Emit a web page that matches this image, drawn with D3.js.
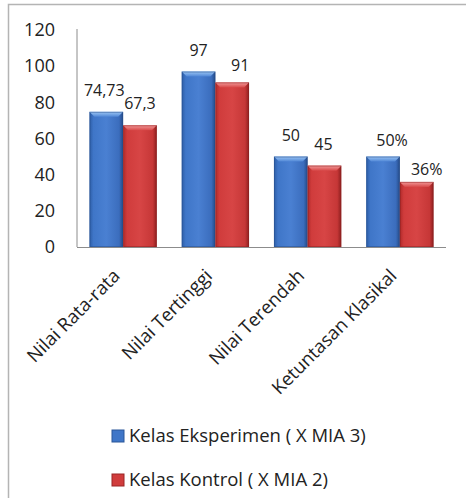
<!DOCTYPE html>
<html lang="id">
  <head>
    <meta charset="utf-8" />
    <script src="https://cdn.jsdelivr.net/npm/d3@7/dist/d3.min.js"></script>
    <style>
      body { margin: 0; background: #fff; }
      text { font-family: "Open Sans", sans-serif; fill: #222; }
      .axis path, .axis line { stroke: #8c8c8c; }
    </style>
  </head>
  <body>
    <div id="container"></div>
    <script>
      const categories = ["Nilai Rata-rata", "Nilai Tertinggi", "Nilai Terendah", "Ketuntasan Klasikal"];
      const seriesNames = ["Kelas Eksperimen ( X MIA 3)", "Kelas Kontrol ( X MIA 2)"];
      const eksperimen = [74.73, 97, 50, 50];
      const kontrol = [67.3, 91, 45, 36];
      const eksperimenLabels = ["74,73", "97", "50", "50%"];
      const kontrolLabels = ["67,3", "91", "45", "36%"];
      const yTicks = [0, 20, 40, 60, 80, 100, 120];
      // small label nudges, as the original chart placed them
      const labelNudge = [[-2, 0], [0, 0], [0, 0], [8, 5], [0, 0], [-1, 0], [9, 5], [10, 9]];

      const width = 466, height = 498;
      const svg = d3.select("#container").append("svg").attr("width", width).attr("height", height);

      // chart frame
      svg.append("rect").attr("x", 8.5).attr("y", 4.5).attr("width", 480).attr("height", 520)
        .attr("fill", "none").attr("stroke", "#b4b4b4").attr("stroke-width", 1.5);

      const defs = svg.append("defs");
      function grad(id, stops, vertical) {
        const g = defs.append("linearGradient").attr("id", id)
          .attr("x1", 0).attr("y1", 0).attr("x2", vertical ? 0 : 1).attr("y2", vertical ? 1 : 0);
        stops.forEach(([o, c]) => g.append("stop").attr("offset", o).attr("stop-color", c));
      }
      grad("blueBody", [[0, "#2d5da6"], [0.12, "#3f76c8"], [0.5, "#4a80d2"], [0.88, "#3b6dbd"], [1, "#244a86"]]);
      grad("redBody", [[0, "#b02a2a"], [0.12, "#d03c3c"], [0.5, "#d74545"], [0.88, "#c63737"], [1, "#8c1e1e"]]);
      grad("blueTop", [[0, "#9cc6f4"], [1, "#4f86d6"]], true);
      grad("redTop", [[0, "#f29a9a"], [1, "#d84a4a"]], true);

      const x0 = d3.scaleBand().domain(categories).range([77, 446]).paddingInner(0.27).paddingOuter(0.135);
      const x1 = d3.scaleBand().domain([0, 1]).range([0, x0.bandwidth()]);
      const y = d3.scaleLinear().domain([0, 120]).range([247, 30]);

      // axes
      svg.append("g").attr("class", "axis").attr("transform", "translate(77,0)")
        .call(d3.axisLeft(y).tickValues(yTicks).tickSize(0).tickPadding(22))
        .call(g => g.select(".domain").attr("d", `M0,${y(120) - 1}V${y(0)}`))
        .call(g => g.selectAll("text").attr("font-size", 18).attr("font-family", "Open Sans").attr("fill", "#222"));
      svg.append("line").attr("x1", 77).attr("x2", 446).attr("y1", y(0) + 0.5).attr("y2", y(0) + 0.5)
        .attr("stroke", "#8c8c8c");

      const rows = [];
      categories.forEach((c, i) => {
        rows.push({ c, s: 0, v: eksperimen[i], label: eksperimenLabels[i], k: i * 2 });
        rows.push({ c, s: 1, v: kontrol[i], label: kontrolLabels[i], k: i * 2 + 1 });
      });

      const bars = svg.append("g").selectAll("g").data(rows).join("g");
      bars.append("rect")
        .attr("x", d => x0(d.c) + x1(d.s))
        .attr("y", d => y(d.v))
        .attr("width", x1.bandwidth())
        .attr("height", d => y(0) - y(d.v))
        .attr("fill", d => d.s ? "url(#redBody)" : "url(#blueBody)");
      // bevel on top of each bar
      bars.append("path")
        .attr("d", d => {
          const l = x0(d.c) + x1(d.s), r = l + x1.bandwidth(), t = y(d.v), b = 5;
          return `M${l},${t}H${r}L${r - b},${t + b}H${l + b}Z`;
        })
        .attr("fill", d => d.s ? "url(#redTop)" : "url(#blueTop)");
      bars.append("rect")
        .attr("x", d => x0(d.c) + x1(d.s) + 0.5)
        .attr("y", d => y(d.v) + 0.5)
        .attr("width", x1.bandwidth() - 1)
        .attr("height", d => y(0) - y(d.v) - 1)
        .attr("fill", "none")
        .attr("stroke", d => d.s ? "#8e2020" : "#254d8c").attr("stroke-opacity", 0.5);

      bars.append("text")
        .attr("x", d => x0(d.c) + x1(d.s) + x1.bandwidth() / 2 + labelNudge[d.k][0])
        .attr("y", d => y(d.v) - 16 + labelNudge[d.k][1])
        .attr("text-anchor", "middle")
        .attr("font-size", 16)
        .text(d => d.label);

      // category labels
      svg.append("g").selectAll("text").data(categories).join("text")
        .attr("transform", c => `translate(${x0(c) + x0.bandwidth() / 2 - 2},${y(0) + 30}) rotate(-45)`)
        .attr("text-anchor", "end")
        .attr("font-size", 18.5)
        .text(c => c);

      // legend
      const legendColors = [["#3f76c8", "#2a5699"], ["#d03c3c", "#9a2424"]];
      const legend = svg.append("g").selectAll("g").data(seriesNames).join("g")
        .attr("transform", (d, i) => `translate(112,${436 + i * 44})`);
      legend.append("rect").attr("x", 0).attr("y", -6).attr("width", 12).attr("height", 12)
        .attr("fill", (d, i) => legendColors[i][0]).attr("stroke", (d, i) => legendColors[i][1]);
      legend.append("text").attr("x", 17).attr("dy", "0.35em").attr("font-size", 18.5).text(d => d);
    </script>
  </body>
</html>
